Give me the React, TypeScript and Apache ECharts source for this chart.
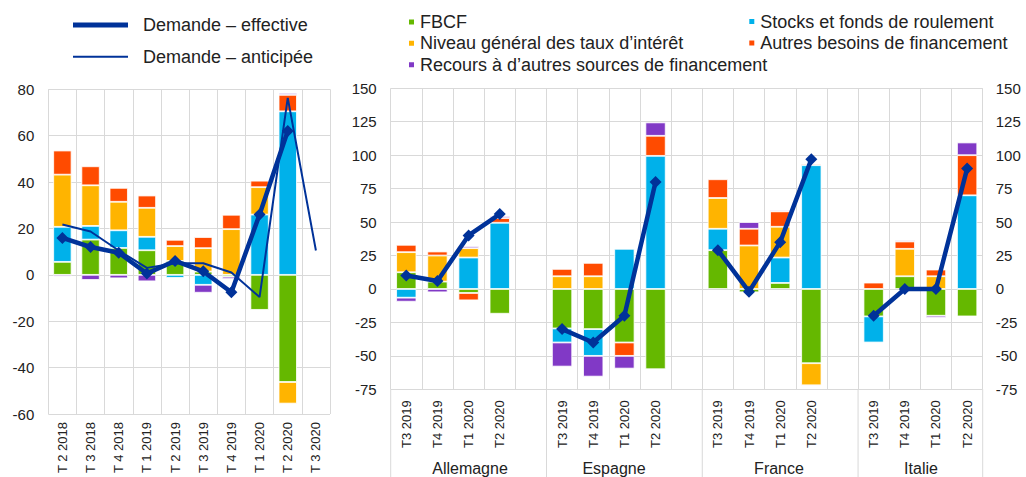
import React, { useEffect, useRef } from 'react';
import * as echarts from 'echarts';

// ---------- Left panel (euro area) ----------
const leftCategories = ['T 2 2018', 'T 3 2018', 'T 4 2018', 'T 1 2019', 'T 2 2019', 'T 3 2019', 'T 4 2019', 'T 1 2020', 'T 2 2020', 'T 3 2020'];
const leftFBCF = [5.6, 15.2, 11.6, 10.6, 6.0, 1.4, -0.8, -15.1, -46.2, null];
const leftStocks = [15.1, 5.9, 7.6, 5.8, -1.3, -4.3, null, 26.0, 70.5, null];
const leftTaux = [22.5, 17.5, 12.3, 12.5, 6.4, 10.1, 19.7, 11.8, -9.3, null];
const leftAutres = [10.4, 8.2, 6.0, 5.3, 2.7, 4.8, 6.2, 2.8, 7.1, null];
const leftRecours = [-0.7, -2.2, -1.5, -2.8, null, -3.4, -1.0, null, 0.8, null];
const leftEffective = [15.9, 12.0, 9.5, 0.6, 6.0, 1.5, -7.5, 26.0, 62.0, null];
const leftAnticipee = [21.7, 18.7, 10.5, 3.0, 5.0, 5.0, 1.0, -9.6, 76.3, 10.5];

// ---------- Right panel (countries) ----------
const countries = ['Allemagne', 'Espagne', 'France', 'Italie'];
const quarters = ['T3 2019', 'T4 2019', 'T1 2020', 'T2 2020'];
// order: Allemagne x4, Espagne x4, France x4, Italie x4
const rightFBCF = [12.5, 5.5, -3.0, -18.5, -29.5, -30.0, -40.0, -60.0, 29.0, -2.5, 4.5, -55.5, -20.5, 9.5, -20.0, -20.5];
const rightStocks = [-6.5, null, 23.5, 49.5, -10.5, -20.0, 30.0, 99.5, 16.0, null, 19.0, 92.5, -19.5, null, null, 70.0];
const rightTaux = [15.0, 19.5, 7.0, null, 9.5, 9.5, null, null, 23.0, 32.5, 23.0, -16.5, null, 20.5, 9.5, null];
const rightAutres = [5.5, 3.0, -5.5, 3.5, 5.5, 10.0, -10.0, 15.0, 14.0, 12.5, 11.5, 1.0, 4.75, 5.5, 5.0, 30.0];
const rightRecours = [-3.0, -2.5, 1.5, 1.5, -18.0, -15.5, -9.5, 10.0, null, 5.0, 1.0, -0.7, null, 1.0, -1.5, 9.5];
const rightEffective = [10, 6, 40, 56, -30, -40, -20, 80, 29, -2, 35, 97, -20, 0, 0, 90];

const leftAxis = { min: -60, max: 80, interval: 20 };
const rightAxis = { min: -75, max: 150, interval: 25 };

const C = {
  green: '#65b800',
  blue: '#00b1ea',
  yellow: '#ffb400',
  red: '#ff4b00',
  purple: '#8139c6',
  navy: '#003299',
  grid: '#d9d9d9',
  text: '#222222',
};

const NAMES = {
  fbcf: 'FBCF',
  stocks: 'Stocks et fonds de roulement',
  taux: 'Niveau général des taux d’intérêt',
  autres: 'Autres besoins de financement',
  recours: 'Recours à d’autres sources de financement',
  eff: 'Demande – effective',
  ant: 'Demande – anticipée',
};

function withGaps<T>(values: T[], gap: T): T[] {
  const out: T[] = [];
  values.forEach((v, i) => {
    out.push(v);
    if (i % 4 === 3 && i < values.length - 1) out.push(gap);
  });
  return out;
}

const rightCategories = withGaps(countries.flatMap(() => quarters), '');

const FONT = '"Liberation Sans", Arial, sans-serif';

export default function App() {
  const ref = useRef<HTMLDivElement>(null);

  useEffect(() => {
    document.body.style.margin = '0';
    if (!ref.current) return;
    const chart = echarts.init(ref.current, undefined, { renderer: 'svg' });

    const barCommon = {
      type: 'bar',
      barWidth: '65%',
      itemStyle: { borderColor: '#ffffff', borderWidth: 0.8 },
    };

    const leftBars = [
      [NAMES.fbcf, leftFBCF, C.green],
      [NAMES.stocks, leftStocks, C.blue],
      [NAMES.taux, leftTaux, C.yellow],
      [NAMES.autres, leftAutres, C.red],
      [NAMES.recours, leftRecours, C.purple],
    ].map(([name, data, color]: any) => ({
      ...barCommon,
      name,
      data,
      stack: 'left',
      xAxisIndex: 0,
      yAxisIndex: 0,
      itemStyle: { ...barCommon.itemStyle, color },
    }));

    const rightBars = [
      [NAMES.fbcf, rightFBCF, C.green],
      [NAMES.stocks, rightStocks, C.blue],
      [NAMES.taux, rightTaux, C.yellow],
      [NAMES.autres, rightAutres, C.red],
      [NAMES.recours, rightRecours, C.purple],
    ].map(([name, data, color]: any) => ({
      ...barCommon,
      name,
      data: withGaps(data, null),
      stack: 'right',
      xAxisIndex: 1,
      yAxisIndex: 1,
      itemStyle: { ...barCommon.itemStyle, color },
    }));

    const legendText = { fontSize: 18, color: C.text, fontFamily: FONT, lineHeight: 18 };
    const squareLegend = (name: string, left: number, top: number) => ({
      data: [name],
      left,
      top,
      padding: 0,
      icon: 'rect',
      itemWidth: 7,
      itemHeight: 7,
      itemGap: 0,
      textStyle: legendText,
    });
    const lineLegend = (name: string, top: number, thickness: number) => ({
      data: [{ name, icon: 'rect', itemStyle: { color: C.navy } }],
      left: 73,
      top,
      padding: 0,
      itemWidth: 55,
      itemHeight: thickness,
      textStyle: { ...legendText, padding: [0, 0, 0, 10] },
    });

    const groupCenters = [470, 614, 779, 921];

    chart.setOption({
      animation: false,
      textStyle: { fontFamily: FONT },
      legend: [
        lineLegend(NAMES.eff, 16, 5),
        lineLegend(NAMES.ant, 47.7, 2),
        squareLegend(NAMES.fbcf, 407, 13),
        squareLegend(NAMES.stocks, 747.3, 12.5),
        squareLegend(NAMES.taux, 407, 34.3),
        squareLegend(NAMES.autres, 747.3, 34),
        squareLegend(NAMES.recours, 407, 55.7),
      ],
      grid: [
        { left: 48.3, top: 89.3, width: 281.7, height: 324.7 },
        { left: 390.7, top: 88.3, width: 592, height: 301 },
      ],
      xAxis: [
        {
          type: 'category',
          gridIndex: 0,
          data: leftCategories,
          axisLine: { show: true, lineStyle: { color: C.grid } },
          axisTick: { show: false },
          splitLine: { show: true, interval: 0, lineStyle: { color: C.grid, width: 1 } },
          axisLabel: { rotate: 90, interval: 0, fontSize: 13, color: C.text, margin: 8 },
        },
        {
          type: 'category',
          gridIndex: 1,
          data: rightCategories,
          axisLine: { show: true, lineStyle: { color: C.grid } },
          axisTick: { show: false },
          splitLine: { show: true, interval: 0, lineStyle: { color: C.grid, width: 1 } },
          axisLabel: { rotate: 90, interval: 0, fontSize: 13, color: C.text, margin: 11 },
        },
      ],
      yAxis: [
        {
          type: 'value',
          gridIndex: 0,
          ...leftAxis,
          axisLine: { show: false },
          axisTick: { show: false },
          splitLine: { lineStyle: { color: C.grid, width: 1 } },
          axisLabel: { fontSize: 15, color: C.text, margin: 14 },
        },
        {
          type: 'value',
          gridIndex: 1,
          ...rightAxis,
          axisLine: { show: false },
          axisTick: { show: false },
          splitLine: { lineStyle: { color: C.grid, width: 1 } },
          axisLabel: { fontSize: 15, color: C.text, margin: 14 },
        },
        {
          type: 'value',
          gridIndex: 1,
          position: 'right',
          ...rightAxis,
          axisLine: { show: false },
          axisTick: { show: false },
          splitLine: { show: false },
          axisLabel: { fontSize: 15, color: C.text, margin: 13 },
        },
      ],
      series: [
        ...leftBars,
        ...rightBars,
        {
          type: 'line',
          name: NAMES.ant,
          data: leftAnticipee,
          xAxisIndex: 0,
          yAxisIndex: 0,
          symbol: 'none',
          lineStyle: { color: C.navy, width: 2 },
          itemStyle: { color: C.navy },
        },
        {
          type: 'line',
          name: NAMES.eff,
          data: leftEffective,
          xAxisIndex: 0,
          yAxisIndex: 0,
          symbol: 'diamond',
          symbolSize: 12,
          lineStyle: { color: C.navy, width: 4.5 },
          itemStyle: { color: C.navy },
        },
        {
          type: 'line',
          name: NAMES.eff,
          data: withGaps(rightEffective as (number | null)[], null),
          xAxisIndex: 1,
          yAxisIndex: 1,
          symbol: 'diamond',
          symbolSize: 12,
          lineStyle: { color: C.navy, width: 4.5 },
          itemStyle: { color: C.navy },
        },
      ],
    });

    // Group separators below the right panel, derived from the category axis scale
    const px = (i: number) => chart.convertToPixel({ xAxisIndex: 1 }, i) as number;
    const band = px(1) - px(0);
    const yBottom = chart.convertToPixel({ yAxisIndex: 1 }, rightAxis.min) as number;
    const boundaries: number[] = [];
    rightCategories.forEach((c, i) => {
      if (i === 0 || c === '') boundaries.push(px(i) + (i === 0 ? -band / 2 : band / 2));
    });
    boundaries.push(px(rightCategories.length - 1) + band / 2);

    chart.setOption({
      graphic: [
        ...boundaries.map((x) => ({
          type: 'line',
          shape: { x1: x, y1: yBottom, x2: x, y2: 477 },
          style: { stroke: C.grid, lineWidth: 1 },
          silent: true,
        })),
        ...countries.map((c, i) => ({
          type: 'text',
          x: groupCenters[i],
          y: 468,
          style: {
            text: c,
            fontSize: 16,
            fill: C.text,
            fontFamily: FONT,
            textAlign: 'center',
            textVerticalAlign: 'middle',
          },
        })),
      ],
    });

    return () => chart.dispose();
  }, []);

  return <div ref={ref} style={{ width: 1026, height: 477 }} />;
}
